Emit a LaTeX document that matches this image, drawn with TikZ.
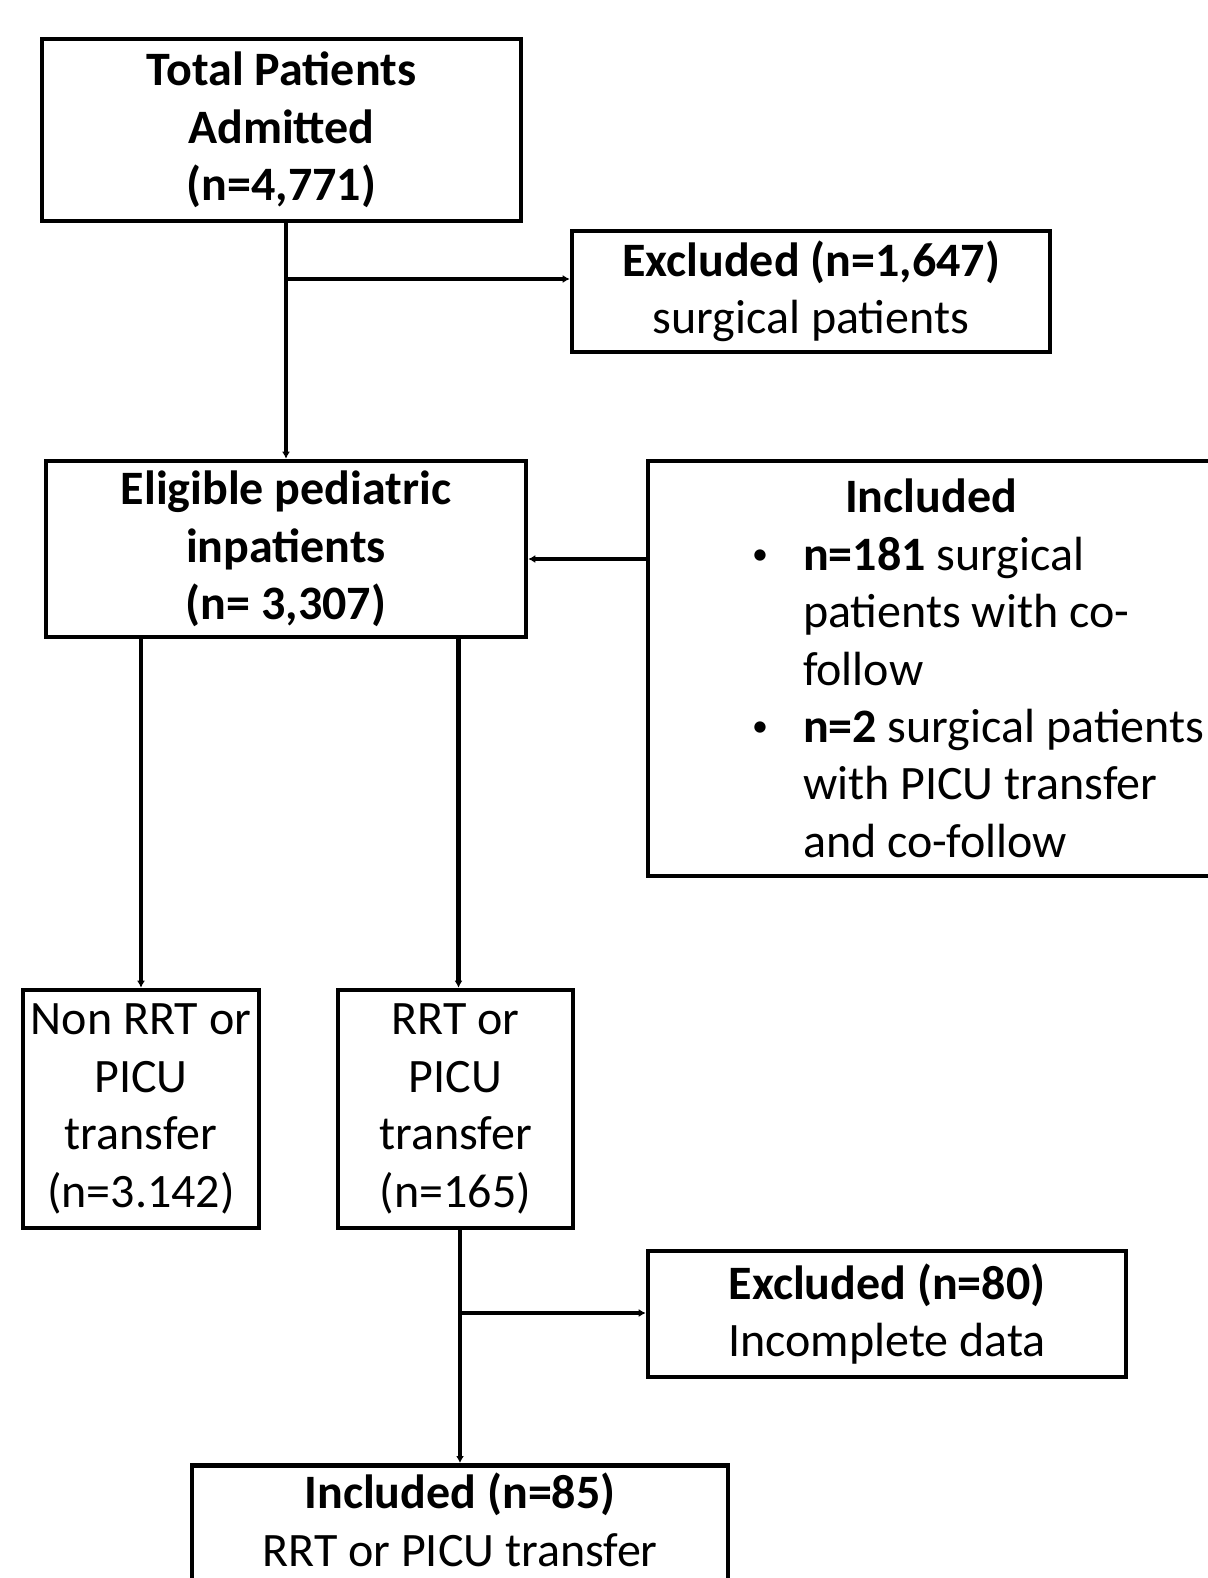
\documentclass[tikz,border=0pt]{standalone}
\usepackage{fontspec}
\setmainfont{Carlito}
\usetikzlibrary{arrows.meta}

\newcommand{\smallbul}{\raisebox{3pt}{\fontsize{16}{16}\selectfont\textbullet}}

\begin{document}
\begin{tikzpicture}[x=0.5pt, y=0.5pt, line width=2.3pt,
		box/.style = {draw, rectangle, align=center, inner sep=0pt, font=\fontsize{24}{28.7}\selectfont},
		arr/.style = {-{Latex[length=3.5pt,width=4pt]}}]
			\useasboundingbox (0,0) rectangle (1207,-1578);
			\node[box, minimum width=239.5pt, minimum height=91pt] (total) at (281.5,-130) {\textbf{Total Patients}\\ \textbf{Admitted}\\ \textbf{(n=4,771)}};
			\node[box, minimum width=239pt, minimum height=60.5pt] (excl1) at (811,-291.5) {\textbf{Excluded (n=1,647)}\\ surgical patients};
			\node[box, minimum width=240pt, minimum height=88pt] (elig) at (286,-549) {\textbf{Eligible pediatric}\\ \textbf{inpatients}\\ \textbf{(n= 3,307)}};
			\node[box, minimum width=283pt, minimum height=207.5pt, text width=283pt, align=flush left] (incl) at (931,-668.5) {\makebox[283pt]{\textbf{Included}}\\
				\hspace*{52pt}\makebox[25.5pt][l]{\smallbul}\textbf{n=181} surgical\\
				\hspace*{77.5pt}patients with co-\\
				\hspace*{77.5pt}follow\\
				\hspace*{52pt}\makebox[25.5pt][l]{\smallbul}\textbf{n=2} surgical patients\\
				\hspace*{77.5pt}with PICU transfer\\
				\hspace*{77.5pt}and co-follow};
			\node[box, minimum width=118pt, minimum height=119pt] (nonrrt) at (141,-1109) {Non RRT or\\ PICU\\ transfer\\ (n=3.142)};
			\node[box, minimum width=117.5pt, minimum height=119pt] (rrt) at (455.5,-1109) {RRT or\\ PICU\\ transfer\\ (n=165)};
			\node[box, minimum width=239pt, minimum height=63pt] (excl2) at (887,-1314) {\textbf{Excluded (n=80)}\\ Incomplete data};
			\node[box, minimum width=268pt, inner ysep=4pt, text depth=40pt, anchor=north] (final) at (460,-1463) {\textbf{Included (n=85)}\\ RRT or PICU transfer};
			
			\coordinate (b1) at (287,-279);
			\coordinate (b2) at (648,-559);
			\coordinate (b3) at (460,-1313);
			
			\draw[arr] (total.south -| elig.north) -- (elig.north);
			\draw[arr] (b1) -- (b1 -| excl1.west);
			\draw[arr] (b2) -- (b2 -| elig.east);
			\draw[arr] (nonrrt.north |- elig.south) -- (nonrrt.north);
			\draw[arr] ([xshift=1.5pt]rrt.north |- elig.south) -- ([xshift=1.5pt]rrt.north);
			\draw[arr] (rrt.south -| final.north) -- (final.north);
			\draw[arr] (b3) -- (b3 -| excl2.west);
		\end{tikzpicture}
\end{document}
